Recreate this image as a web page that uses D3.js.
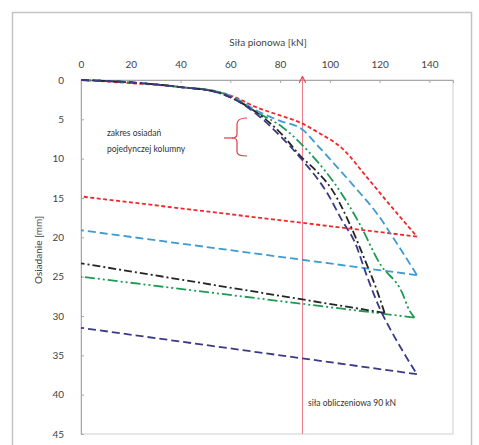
<!DOCTYPE html>
<html lang="pl">
<head>
<meta charset="utf-8">
<title>Osiadanie kolumn</title>
<script src="https://cdn.jsdelivr.net/npm/d3@7"></script>
<style>
  body { margin: 0; background: #fff; }
  svg text { font-family: Lato, "Open Sans", sans-serif; fill: #444; }
</style>
</head>
<body>
<div id="chart"></div>
<script>
// tick labels
var xTicks = [0, 20, 40, 60, 80, 100, 120, 140];
var yTicks = [0, 5, 10, 15, 20, 25, 30, 35, 40, 45];

// series: [force kN, settlement mm] - loading curve, then unloading back to 0
var redLoad = [[0,0],[20,0.4],[40,0.9],[55,1.5],[62,2.2],[70,3.4],[80,4.5],[88,5.4],[96,6.8],[105,8.7],[115,12.4],[125,16.2],[135,19.9]];
var redUnload = [[135,19.9],[0,14.8]];
var blueLoad = [[0,0],[20,0.3],[40,0.9],[55,1.5],[62,2.3],[70,3.8],[80,5.2],[89,6.3],[95,8.3],[103,11.1],[110,13.6],[119,17],[127,20.8],[135,24.8]];
var blueUnload = [[135,24.8],[0,19.1]];
var greenLoad = [[0,0],[20,0.3],[40,0.9],[55,1.5],[62,2.4],[70,4.0],[81,6.0],[92,9.3],[104,14.1],[112,18.3],[120,23.3],[129,27],[132,29.3],[134,30.2]];
var greenUnload = [[134,30.2],[0,25]];
var blackLoad = [[0,0],[20,0.3],[40,0.9],[55,1.6],[62,2.5],[70,4.0],[81,7.0],[88,9.6],[95,11.7],[101,14],[108,18.3],[114,22.8],[119,26.8],[122,29.6]];
var blackUnload = [[122,29.6],[0,23.3]];
var navyLoad = [[0,0],[20,0.3],[40,0.9],[55,1.6],[62,2.5],[70,4.2],[80,7.1],[89,10.2],[99,14.4],[105,17.9],[110,20.6],[115,25],[120,29],[124,31.5],[129,34.3],[135,37.4]];
var navyUnload = [[135,37.4],[0,31.5]];
var designForce = 89;

var series = [
  {name: "red", load: redLoad, unload: redUnload, color: "#f0282c", dash: "4,2.5"},
  {name: "blue", load: blueLoad, unload: blueUnload, color: "#3c9bd2", dash: "8,4"},
  {name: "green", load: greenLoad, unload: greenUnload, color: "#1f9a55", dash: "10,3,2,3,2,3"},
  {name: "black", load: blackLoad, unload: blackUnload, color: "#262626", dash: "8,3,2,3"},
  {name: "navy", load: navyLoad, unload: navyUnload, color: "#3a3a86", dash: "8,4"}
];

var W = 479, H = 445;
var pL = 81, pR = 453, pT = 80, pB = 434;

var svg = d3.select("#chart").append("svg").attr("width", W).attr("height", H);

// outer frame
svg.append("rect").attr("x", 12.5).attr("y", 12.5).attr("width", 459).attr("height", 440)
  .attr("fill", "none").attr("stroke", "#c4c4c4").attr("stroke-width", 1.5);

var x = d3.scaleLinear().domain([0, 149.5]).range([pL, pR]);
var y = d3.scaleLinear().domain([0, 45]).range([pT, pB]);

// plot area border
svg.append("rect").attr("x", pL).attr("y", pT).attr("width", pR - pL).attr("height", pB - pT)
  .attr("fill", "none").attr("stroke", "#cfcfcf").attr("stroke-width", 1);

var xAxis = svg.append("g").attr("transform", "translate(0," + pT + ")")
  .call(d3.axisTop(x).tickValues(xTicks).tickSize(-3).tickPadding(12));
var yAxis = svg.append("g").attr("transform", "translate(" + pL + ",0)")
  .call(d3.axisLeft(y).tickValues(yTicks).tickSize(-3).tickPadding(17));
[xAxis, yAxis].forEach(function(a) {
  a.select(".domain").attr("stroke", "#a8a8a8");
  a.selectAll(".tick line").attr("stroke", "#a8a8a8");
  a.selectAll(".tick text").attr("font-size", 10).style("fill", "#444");
});

// axis titles
svg.append("text").attr("x", 268).attr("y", 46).attr("text-anchor", "middle")
  .attr("font-size", 10).text("Siła pionowa [kN]");
svg.append("text").attr("transform", "translate(42,250) rotate(-90)").attr("text-anchor", "middle")
  .attr("font-size", 10).text("Osiadanie [mm]");

var line = d3.line().x(function(d) { return x(d[0]); }).y(function(d) { return y(d[1]); });
var curve = d3.line().x(function(d) { return x(d[0]); }).y(function(d) { return y(d[1]); })
  .curve(d3.curveMonotoneX);

// design force line with arrow
svg.append("defs").append("marker").attr("id", "arr").attr("viewBox", "0 0 10 10")
  .attr("refX", 9).attr("refY", 5).attr("markerWidth", 7).attr("markerHeight", 7)
  .attr("orient", "auto-start-reverse")
  .append("path").attr("d", "M0,0 L10,5 L0,10").attr("fill", "none").attr("stroke", "#e04050").attr("stroke-width", 1.6);
svg.append("line").attr("x1", x(designForce)).attr("x2", x(designForce))
  .attr("y1", y(45)).attr("y2", y(0) - 3)
  .attr("stroke", "#ec7a88").attr("stroke-width", 1).attr("marker-end", "url(#arr)");

series.forEach(function(s) {
  svg.append("path").attr("d", curve(s.load)).attr("fill", "none")
    .attr("stroke", s.color).attr("stroke-width", 1.8).attr("stroke-dasharray", s.dash);
  svg.append("path").attr("d", line(s.unload)).attr("fill", "none")
    .attr("stroke", s.color).attr("stroke-width", 1.8).attr("stroke-dasharray", s.dash);
});

// annotations
svg.append("text").attr("x", 107).attr("y", 136).attr("font-size", 8.5).style("fill", "#333").text("zakres osiadań");
svg.append("text").attr("x", 107).attr("y", 152).attr("font-size", 8.5).style("fill", "#333").text("pojedynczej kolumny");
svg.append("path").attr("d", "M247,118 Q237,118 237,124 L237,134 Q237,138 232,138 Q237,138 237,142 L237,152 Q237,156 247,156")
  .attr("fill", "none").attr("stroke", "#e03a44").attr("stroke-width", 1.2);
svg.append("line").attr("x1", 224).attr("x2", 233).attr("y1", 138).attr("y2", 138)
  .attr("stroke", "#e03a44").attr("stroke-width", 1.2);
svg.append("text").attr("x", 308).attr("y", 406).attr("font-size", 8.5).style("fill", "#333").text("siła obliczeniowa 90 kN");
</script>
</body>
</html>
